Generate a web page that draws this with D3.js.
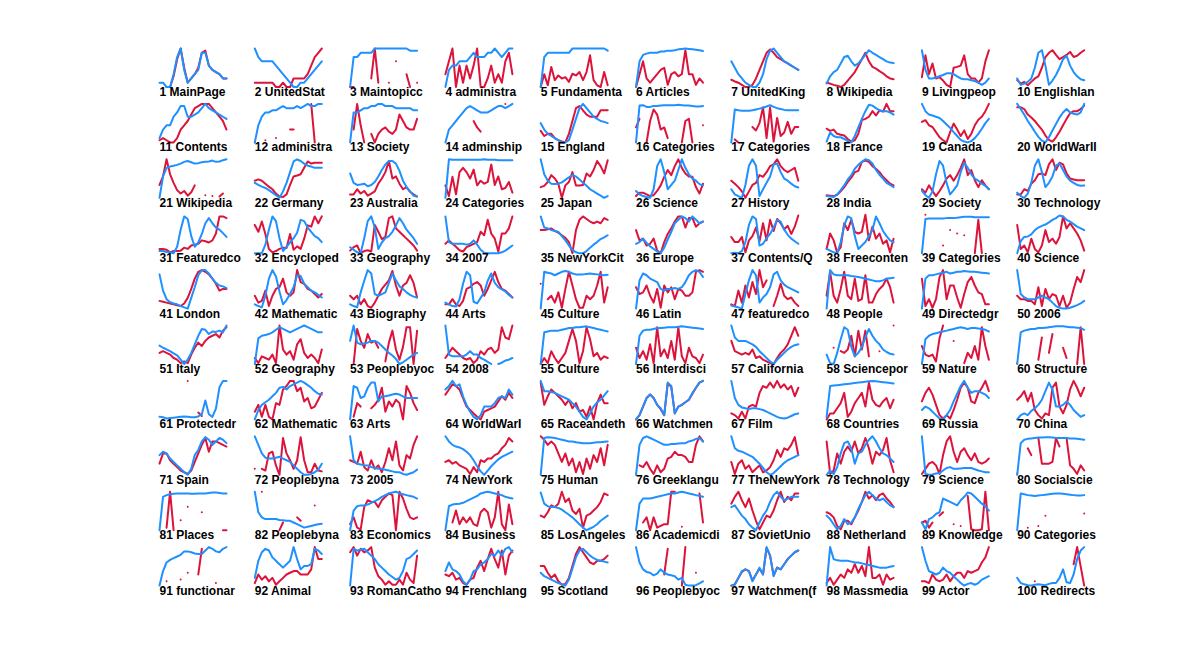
<!DOCTYPE html>
<html>
<head>
<meta charset="UTF-8">
<title>Page views</title>
<script src="https://d3js.org/d3.v7.min.js"></script>
<style>
    html, body {
        margin:0;
        padding:0;
        background:#fff;
    }
    svg text {
        font-family: "Liberation Sans", Arial, sans-serif;
        font-weight: bold;
        font-size: 12px;
        fill: #000;
    }
</style>
</head>
<body>
<svg id="chart"></svg>
<script>
    // gaps in a series
    const _ = null;

    const pages = [
        "MainPage","UnitedStat","Maintopicc","administra","Fundamenta","Articles","UnitedKing","Wikipedia","Livingpeop","Englishlan",
        "Contents","administra","Society","adminship","England","Categories","Categories","France","Canada","WorldWarII",
        "Wikipedia","Germany","Australia","Categories","Japan","Science","History","India","Society","Technology",
        "Featuredco","Encycloped","Geography","2007","NewYorkCit","Europe","Contents/Q","Freeconten","Categories","Science",
        "London","Mathematic","Biography","Arts","Culture","Latin","featuredco","People","Directedgr","2006",
        "Italy","Geography","Peoplebyoc","2008","Culture","Interdisci","California","Sciencepor","Nature","Structure",
        "Protectedr","Mathematic","Arts","WorldWarI","Raceandeth","Watchmen","Film","Countries","Russia","China",
        "Spain","Peoplebyna","2005","NewYork","Human","Greeklangu","TheNewYork","Technology","Science","Socialscie",
        "Places","Peoplebyna","Economics","Business","LosAngeles","Academicdi","SovietUnio","Netherland","Knowledge","Categories",
        "functionar","Animal","RomanCatho","Frenchlang","Scotland","Peoplebyoc","Watchmen(f","Massmedia","Actor","Redirects"
    ];

    // blue series, one row per page (scale 0..9)
    const blue = [
        [1,1,0,0,3,7,9,4,1,2,3,4,8,8,5,4,3.5,3,2,2],
        [9,7,6,6,6,6,5,4,3,2,1,0,0,1,1,2,3,4,5,6],
        [0,7,7,8,8,8,8,9,9,9,9,9,9,9,9,9,9,8.5,8.5,8.5],
        [0,4,5,5,6,6,6,7,8,7,7,7,8,8,9,8,7,8,9,9],
        [0,7,8,8,8,8,8,8,8,9,9,9,9,9,9,9,9,9,9,8.5],
        [0,6,7.5,7.8,8,8,8,8.3,8.3,8.5,8.5,8.6,8.8,8.9,9,8.9,8.8,8.7,8.6,8.4],
        [6,4.5,3,2,1,0.5,0,0,1,3,6.5,8.5,9,8,7,6,5.5,5,4.5,4],
        [0.8,2.5,3.5,4,5.5,7,7.3,6,5,5.5,6.5,7.5,8.6,8,7.5,7,6.5,6,5.7,5.6],
        [8.6,4,2,2,2.2,2.5,2.8,3.2,3.2,3,2.5,2,1.8,1.8,1.6,1.4,1,0.5,1,2],
        [2,0.5,0.8,1.2,2,4.5,8,8.6,5,0.5,1.5,2.8,4.5,6.5,7.3,5,3.5,2.5,1.8,1.6],
        [1,3,4,4,6,7,8.5,8.5,6,6,6.5,7,8,9,8,7.5,7,6.5,6,5.5],
        [0,4,6,7,7,7.5,7.5,8,8.5,8,8,8,8.5,8,8.5,9,8.5,8.5,9,9],
        [0,7,7,7.5,8,8,8.5,8.5,9,9,8.5,8.5,8.5,8,8,8,8,8,7.5,7.5],
        [0,3,4,5,6,7,8,8.5,8,7.5,7,7,7,7.5,8,8.5,8.5,8,8.5,9],
        [4.5,3,2,1.5,1,0.5,0,0,0.5,3,5.5,8,9,8,7,6,5.5,5,4.8,4.5],
        [0,8.6,8.7,8.3,8.3,8.5,8.5,8.6,8.7,8.7,8.7,8.7,8.8,8.7,8.6,8.6,8.5,8.4,8.4,8.5],
        [0,7.7,7.5,7.4,7.4,7.4,7.5,7.7,7.9,8.1,8.4,8.7,8.3,8,7.8,7.6,7.5,7.5,7.5,7.5],
        [0.2,2.3,1.5,1.2,1.2,0.8,0.3,0,1.5,3.5,5.5,7.3,8.8,8.6,8,7.5,7.3,7.3,7,6.5],
        [9,7.3,6.5,6.3,6,5.7,5,4.2,3.4,2.4,1.5,0.6,0.2,0,0.3,1,2,3.2,4.5,5.5],
        [9,7.8,6.5,5,3.8,2.5,1.3,0.4,0,1.2,2.8,4.3,5.8,7,7.8,7,6.7,6.5,7,9],
        [0,5,7,7.3,7.5,7.7,8,8.4,8.6,8.3,8,8.1,8.3,8.4,8.5,8.7,8.4,8.5,8.8,9],
        [3.5,3,2.6,2.3,1.8,1.2,0.6,0,1.5,3.5,6,8.5,9,8.6,8,7.5,7.3,7,7,7],
        [5.7,3.5,3,3.1,3.3,2.7,3,3.7,5,6.5,7.8,8.6,8.6,8,6.3,4,2.5,1.5,0.5,0.3],
        [0,9,8.9,8.9,8.9,8.9,8.9,8.9,8.9,8.9,8.9,9,8.9,8.9,8.9,8.8,8.8,8.8,8.8,8.8],
        [9,5.5,4,3.3,3.2,3.3,3.6,4.2,4.8,5.3,5,4.3,3.5,2.8,2,1.5,1,0.5,0,0.4],
        [1.6,0.8,0.4,0.2,0,2,7.4,9,6,2,3,4,6.5,9,7,5.5,4.5,4,3.2,2.9],
        [2,0.8,0.4,0,3,7.5,9,7.5,0.4,2,3.5,5,7.8,8,6,4.5,4,3.3,2.7,2.4],
        [0.4,0.3,0.2,0.8,1.8,2.9,4.3,5.3,6.8,7.7,8.4,9,8.8,8,6.5,5.4,4.5,3.5,3,2.5],
        [1.6,0.6,0,1.5,5.5,8.6,7.5,3.5,0.8,1.8,2.9,6,8.2,7,5.5,4.5,4,3.3,2.8,2],
        [1.2,0.4,0,1,3.5,7.5,9,6,2.5,3.5,5,7.5,8,6.5,5,4,3.5,3,2.8,2.9],
        [0.5,0.5,0.3,0.2,0,1.5,5.5,8.6,8,4,1.5,2.5,4.5,7,8.2,7,6,5.5,4.7,3.8],
        [0,0,0,2,5.5,8.6,7.5,3.5,0.5,1.5,2.5,3.5,4.8,7.8,7.5,6,5,4,3.5,2.6],
        [1.4,0.8,0.2,0,3.5,7.5,8.6,6,1,2.5,3.5,4,5,6.5,8.2,7,5.5,4.5,3.5,2.2],
        [8.6,2.6,2.2,2.2,2.2,2.2,2,2.2,3,2,0.8,0.1,0,0,0,0,0.2,0.6,1.2,1.8],
        [8.6,6,5.8,5.4,5.2,5,4,3,1.8,0.8,0.2,0,0,0.5,1.3,2,2.6,3.3,3.7,4.2],
        [2.2,2.6,3.4,2.4,1.6,1,0.4,0,1.3,3.2,5,7,7.8,8.6,8.2,7.4,8.6,7.8,7,7.4],
        [0,0.1,0,0.5,2.6,6.6,8.6,8,1.8,2.2,3.5,4.5,6,7.8,7.4,5.5,4.3,3.4,2.8,2.2],
        [1,0.6,0.2,0,2.6,6.5,8.6,8.2,4,1,1.8,2.6,4,5.4,8.6,7,5.2,4,3,2.6],
        [0,8,8.1,8.1,8.1,8.1,8.1,8.2,8.2,8.2,8.3,8.4,8.5,8.5,8.5,8.4,8.4,8.4,8.4,8.4],
        [0,2.8,3.8,3.9,4.4,5.4,6,6.4,6.7,7.2,7.8,8.2,8.8,8.6,7.8,7.4,6.8,6.2,5.8,5.4],
        [8,4.2,2.2,1.5,1.2,1,0.6,0.3,0,2.5,5,7.8,9,9,8.2,7,6,5.4,5.2,4.8],
        [1,0.6,0.3,3,7,9,7.5,4,1,2,3.4,5,7.8,7.6,5.8,5,4.2,3.8,3.2,2.6],
        [1,0.6,0.3,3.8,6.5,9,8.2,3.4,3,3.4,3.8,6,8.2,6.6,5.2,4.6,3.8,3.2,2.8,2.6],
        [1.4,1,0.6,0.5,2.2,5.8,8.6,7.8,1.6,1.2,2.5,3.8,6.5,8.2,6,5,4.5,4,3.2,2.6],
        [0,8.6,8.4,8.2,7.8,8.2,8.6,8.8,8.6,8.2,8,8,8,8.1,8.2,8.1,8,7.9,7.8,7.9],
        [0,6.6,8.2,7.8,7,6.6,6.2,4.6,4.2,4.6,4.6,4.8,4.6,5,6.2,7.8,8.6,9,8.6,7.4],
        [0.7,0.5,0.3,0,3.4,6.6,9,7.8,1.4,2.6,3.4,5,8,8.6,6.6,5.6,5,4.6,4.2,3.8],
        [0,9,8,7.8,7.8,7.8,7.8,7.6,7.5,7.4,7.2,7,6.8,6.6,6.4,6.4,6.6,7,7.1,7.2],
        [0,7,7.8,7.8,8,8.2,8.4,8.6,8.2,8.4,8.6,8.6,8.8,8.7,8.6,8.6,8.5,8.4,8.3,8.2],
        [9,3.4,2.6,2.2,2.2,2.2,2.6,3,2.6,2.2,1.4,0.6,0.2,0,0,0.2,0.5,0.8,1.2,1.8],
        [4.3,3.8,3.4,3,2.5,2,1,0,1,2.6,4.6,6.6,8.2,8,7,7.6,7.5,7.8,7.4,9],
        [0,6,6.6,6.8,7,7.4,8,8.6,8.2,7.8,7.4,7.8,8.2,8.6,9,8.6,8.2,7.8,7.4,7.4],
        [5.4,9,5,4.6,4.8,5,5.4,5.4,5,4.2,3.4,2.6,2,1.2,0,0.4,1,1.6,2.2,2.6],
        [9,2.2,1.8,1.8,1.8,1.8,2.2,3,2.2,2.2,1.4,1,0.5,0,_,0,0.3,0.8,1,1.4],
        [0,7.4,7.6,7.8,7.8,7.8,8,8.2,8.4,8.4,8.6,8.6,8.7,8.8,8.6,8.4,8.2,8,7.8,7.6],
        [0,6.6,7.8,8,8,8.2,8.4,8.4,8.5,8.6,8.6,8.6,8.7,8.8,8.7,8.6,8.5,8.4,8.3,8.2],
        [9,6.2,5.4,5.4,5.4,5,4.6,4,3,2.2,1.4,0.6,0,1,1.8,2.6,3.4,4,4.4,4.6],
        [2.2,0.2,0,2.6,5.8,8.6,8,4,1.8,2.6,4,6.2,8.2,6.6,5.4,4.6,3.4,2.8,2.4,2.2],
        [0,5.8,6.6,7,7.2,7.4,7.6,7.8,8,8.2,8.4,8.6,8.4,8.2,8.4,8.4,8.3,8.2,8,7.6],
        [0,7.4,7.8,8,8.2,8.2,8.4,8.4,8.5,8.6,8.7,8.8,8.8,8.8,8.7,8.6,8.6,8.5,8.4,8],
        [0.6,0.5,0.2,0.3,0.4,0.5,0.6,0.7,0.6,0.5,0.5,0.7,1.2,4.4,1.2,0.6,2.5,7.5,9,9],
        [0,2.2,3.4,4,4.6,5.4,6.2,7.4,7.6,7,7.8,8.2,8.6,9,8.6,8,7.4,6.6,6,5.8],
        [0,7.8,7.4,5,5.4,7.4,8.6,8.6,4.2,5.4,5.4,5.6,5.8,6,5.8,5.4,5,5,5,5],
        [7,7.8,9,7.8,8.2,5.4,3.4,1.8,0.6,0,1,3,3,3,3.8,5,5.4,5,7,5.8],
        [9,6.6,6.6,6.4,6.2,5.8,5.4,5,4.6,3.8,3,1.8,0.6,0,1.4,3,4,4.6,5.6,6.6],
        [0,1,3,5,5.8,5,3.4,2.6,1,8.6,7.8,1.4,3,3.4,4,4.6,6.2,7.4,8.6,9],
        [9,5,3.4,2.8,2.6,2.4,2.6,2.6,2.4,2.2,1.8,1.4,1,0.6,0.3,0.2,0.4,0.8,1.2,1.4],
        [0.5,7.8,7.9,8,8.1,8.2,8.3,8.4,8.5,8.6,8.7,8.8,8.9,9,8.9,8.8,8.7,8.6,8.5,8.4],
        [2.2,3,2.6,1.8,1,0.2,0,1,2.2,4.2,6,7.8,9,7.4,6.2,6.6,6.6,6.2,5.8,5],
        [0,1,1.4,1,2,2.6,3.4,4.6,6.6,8.6,7,3,3,3.4,4.2,3.4,2.2,1.4,0.6,1],
        [4.6,5.4,5,3.8,3,2.2,1.4,0.6,0,1.4,4.6,5.8,7.8,8.8,8.2,7,7.8,8.6,8.2,7.4],
        [9,7,5,4,3.8,3.8,4,4.2,3.8,3.4,3,2.2,1.4,0.6,0,0,0.2,0.6,1.2,2.6],
        [9,3.4,2.6,2.4,2.2,2.2,1.8,1.6,1.4,1.4,1.2,1,0.8,0.6,0.6,0.2,0,0.3,0.6,1.2],
        [9,7.8,7,6.6,6.4,6,5.4,4.6,3.4,2,0.8,0,1,2,2.8,3.6,4.2,4.6,5,5.4],
        [0,8.6,8.8,8.7,8.6,8.4,8.2,8,7.8,7.8,7.6,7.5,7.4,7.4,7.4,7.5,7.6,7.6,7.7,7.8],
        [0,7,8.6,9,8.6,8.2,7.8,7.4,7,7,7.2,7.2,7.3,7.4,7.4,7.8,8,8.4,8.6,7.8],
        [9,6.2,5.6,5.4,5,4.6,4.2,3.4,2.6,1.6,0.6,0,0.4,1.2,2,2.8,3.4,3.8,4.2,4.6],
        [0,1,0.2,1.8,5,7.4,7.8,6.2,2.6,5,5.4,7,8.2,9,7.8,6.2,5,4.6,3.8,3],
        [9,0.2,0,0.1,0.3,0.4,1,1.6,1.8,1.4,1.4,1.5,1.6,1.6,1.6,1.3,1,0.8,0.6,0.6],
        [0,7.4,8.2,8.4,8.5,8.6,8.7,8.7,8.8,8.8,8.7,8.6,8.6,8.6,8.6,8.5,8.5,8.4,8.3,8.2],
        [0,7.8,8.2,8.4,8.5,8.6,8.6,8.6,8.6,8.5,8.5,8.6,8.6,8.6,8.7,8.8,8.8,8.7,8.6,8.6],
        [9,4.2,3,2.6,2.6,2.6,2.6,2.4,2.3,2.2,2.2,1.8,1.4,1,0.6,0.8,1,1.2,1.4,1.5],
        [0,4.6,5.6,5.8,5.8,6,6.4,6.8,7.2,7.8,8.2,8.6,8.8,9,8.6,8.4,8.2,8,7.8,7.4],
        [0,5.6,6,6.1,6.2,6.4,6.8,7.2,7.6,8,8.6,8.8,9,8.8,8.6,8.4,8.2,7.8,7.6,7.4],
        [8.8,6.2,5.6,5.4,5.4,5.2,4.8,4.2,3.6,3,2.2,1.4,0.6,0,0.4,0.8,1.4,2.2,2.8,3.4],
        [0,6.2,7.4,7.4,7.4,7.6,7.8,8,8.2,8.4,8.6,8.6,8.8,9,8.8,8.6,8.4,8.2,8,7.8],
        [5.4,5.8,4.6,3.4,2.6,1.4,0.6,0,1.8,3.4,4.6,6.6,8.2,9,7.8,7,7.4,7.8,7.8,7.8],
        [3.4,2.6,1.4,0.2,1,2.6,1.4,1.8,3,5,6.6,8.2,9,8.2,7.4,7,7.4,6.6,5.8,5.4],
        [1.8,0.2,2.6,3,3.8,4.2,7.4,7,6.6,6.2,5.8,7,7.8,8.8,8.6,7.8,7,6.2,5.6,4.6],
        [0,8.6,8.4,8.2,8.1,8,8.1,8.2,8.3,8.4,8.5,8.6,8.6,8.5,8.4,8.3,8.2,8.1,8.1,8.2],
        [0,3.4,5.4,6,6.4,6.8,7.2,8,8,7.8,7.5,7.4,7.4,8.2,9,8.6,8,7.8,8.6,9],
        [1.8,5.8,7.8,8.6,8.2,6.6,5.8,5,4.2,5,5.8,9,6.2,3.8,4.6,4.6,5,8.6,8.2,7.4],
        [0,8.6,8.2,8.4,8.6,7.8,7,6.2,5,4.2,3.4,2.6,2,1.4,1.8,3.4,6.2,6.6,7.4,8.2],
        [3.4,5.4,3.8,3.4,2.6,1,0.2,1.4,3.4,3.8,5,5.4,6.2,7.4,7,8.2,7,8.6,9,7.8],
        [3,2.2,1.8,1.4,1,0.6,0.3,0,1.4,4,6.6,8.2,8.6,7.8,7,6.4,6,5.8,5.6,5.4],
        [9,5.4,3.8,3.2,3,2.4,2.8,3.8,3,2.6,2.4,2.2,1.4,1.8,0.2,0,0,0.1,0.5,1],
        [0,0.2,1.8,3.4,3.8,3.4,1,2.6,4.2,2.6,9,7,2.2,4.2,3.8,5,6.2,7,7.8,8.2],
        [0,9,6.2,5.9,5.8,5.8,5.8,5.6,5.4,5.4,5.2,5,4.8,4.6,4.4,4.2,4.2,4.2,4.4,4.6],
        [9,5.8,3.4,3,2.6,3,4.2,3.4,3,2.2,1.4,0.6,0,0.4,0.6,0.2,0.6,1.4,1.8,2.2],
        [1.8,0.6,0.3,0.1,0,0.2,0.3,0.2,0.1,0.4,0.6,0.6,1.8,3.8,0.8,0.6,2.6,6.2,8.2,9]
    ];

    // red series, one row per page (scale 0..9, _ = missing)
    const red = [
        [_,_,0,0,2.5,6.5,9,4.5,1,2,3,4.5,8,8.5,5,4,3.5,3,2,2],
        [1,1,1,1,1,1,0,0,1,0,0,2,2,2,2,3,5,7,8,9],
        [0,0,_,_,_,_,2,9,1,_,_,1,_,6,_,_,3,0,_,1],
        [3,6,9,0,5,1,5,2,5,9,0,0,2,5,1,3,1,6,8,3],
        [0,3,0.4,4.7,1.6,2.7,2,2.3,1.2,3.1,2.7,3.5,1.6,3.5,7.4,1.6,0.4,0,3.5,0.4],
        [0,3,6,2,1,2,3,4,4.5,0.5,3,3.5,2.5,3,8.6,3,3,0.5,2,1],
        [1.7,1.3,1,0.5,0,0,0.5,2,4,6,8,8.8,8,7,6.5,6,5.5,5,4.5,4],
        [1,0.8,0.5,0.3,0,0.5,1.5,2.5,3.5,5,6.5,8,6,4.7,4.3,3.7,3.2,2.5,2,1.8],
        [2.3,7.4,3,5.5,2,2.3,1.5,0.5,0,4.5,4.7,5,7.4,3,2,2,1,2,6,8.6],
        [1.6,0.8,1.2,0.4,1.2,2,2.5,4.5,7,8,8.6,7.5,6.5,7,7.5,8.2,7,7.3,8,8.6],
        [0.5,1,0.5,0,0,1,3,4,5,6.5,8,8.5,9,9,9,8,7,6,5,3],
        [0,_,_,0.5,_,_,1,_,_,_,3,3,_,_,_,_,9,0,_,_],
        [_,3,9,4,0,_,2,0,2,3,3.5,2.5,2,3,6.5,5,3.5,3,3,5.5],
        [_,_,_,_,_,_,_,_,5,3.5,2.5,_,_,_,_,_,_,9,_,_],
        [2.7,1.5,2,2,1,0.5,0.2,0,2,5,8,8.5,7.5,6.5,6,6,6,7.5,7.5,7.5],
        [3.5,5.5,_,0,5,7.7,6.5,3,3.5,1,_,_,_,0,5,5.5,0,_,_,4],
        [_,0.7,0,_,_,_,3.6,2.8,4.5,8.2,1,8.2,0.2,5.7,1.5,2.3,4.8,2,3.6,3.6],
        [3.2,2.7,3,2,1.8,1.6,0.8,0.2,0.5,2,5.2,5.5,6,7.3,6.3,7.5,7.2,9,7.3,7.3],
        [4.8,5.2,4,3.6,2.4,1.2,0.5,0,2.4,4.4,3,1.5,2.8,0.8,2,4,5.3,6,7.3,9],
        [8.2,8.2,7.8,6.5,5.8,5,4,3,1.6,0.6,0.2,1.2,2.5,4,5.5,6.8,7.3,7.3,7.8,8.6],
        [3,5,9,5.5,3.5,1.8,1,1.6,0.5,1.3,2.9,_,_,0.6,_,0.4,_,0.3,1,_],
        [4,4.3,4,3.3,2.6,2,1,0.3,0.2,0.8,3,5,5.2,5.5,7,8.5,8,8.2,8.2,8.2],
        [0.8,0.8,2,1,1.6,0.5,1,1.5,3.3,4.5,6,8.6,4.5,5,3.3,2,2.5,1.4,0.8,0.3],
        [2.9,0.4,4.9,0.8,6,7,6,4.5,6.6,2.9,4,3.3,3.7,7.8,3,5,2,2.3,3.7,1.2],
        [2.5,2.8,3.7,5.3,4.5,3.3,0,2.9,3.7,6,2.9,2.9,3,5.7,5,6.5,8.6,7.4,5.7,8.8],
        [0.4,1.2,1.2,0.8,0.4,0.6,1.6,2.9,4.9,6.5,5.3,7.4,9,7,5.7,5,4.9,2.5,1,3.3],
        [4,3.3,2.5,1.5,0,1.5,3,3.5,5.3,4.9,6,7.4,7.8,9,7.4,6.5,6,6.5,7,4],
        [0.6,0.5,0.4,0.7,1.5,2.5,3.7,4.7,6,6.3,8.4,8.7,8.4,7.4,6.8,6,4.9,4.1,3.3,2.9],
        [2,1.2,2.9,1.6,0.4,1.6,2.9,4.5,5.3,4,5.3,7,9,5.3,6.5,4.1,2.5,4.1,2.9,2],
        [0.8,0.8,2,1.6,3.3,4.1,5.5,5.7,5.3,7.8,9,6.5,8.2,7.8,5.7,4.5,4.3,4.1,4.1,4.1],
        [1,1,0.8,0.2,0.5,0.5,0.6,1.3,1,1.8,2,2.2,3,2.8,2.5,3,4.6,8.6,8.6,8.2],
        [6.6,5,7.4,4.5,1,0.2,0.5,1,1.3,1.2,4.5,0.8,1.6,1,3.4,6.5,6.2,8.6,7,8.6],
        [0.6,1.4,1.8,0,0.5,0.7,0.4,6.6,5,3.3,3.8,8.2,8.6,5.8,5,4.2,3.4,2.6,1.8,0.6],
        [2.2,3,2.2,1.5,0.7,0.4,1.4,1.8,2.2,2.6,5,4.2,7.8,4.6,3.4,0.4,4.6,4.6,5.8,8.6],
        [5.4,5.4,5.6,5.8,5.2,4.8,4.2,3.6,2.6,0,5.4,7.8,8.6,8,7.4,7,7.4,7,8.2,7.8],
        [5.4,3,3.4,1.8,2.2,3.4,0.6,0,2.6,4.5,5.8,7.4,8.6,8.6,6,8.2,8.2,6.2,7,7.4],
        [3.8,2.6,2.6,3.8,0.2,3,4,6,2.8,7,3,7.8,5.2,8,7,5.6,6.4,4.5,6.2,8.8],
        [1,4.6,3,0.2,1.4,7,5.4,7.8,5,4.6,5,9,3,6.2,3.4,4.6,2.2,3,0.2,3.4],
        [_,9,_,_,_,_,1.8,_,5.4,_,4.6,_,4.2,_,_,0,7.8,0,_,_],
        [6.6,1,1.8,0.2,3.4,1,0.2,1.8,5.4,2.6,3.4,2.2,3.8,8.6,5.8,7,5.8,4.6,3,0.6],
        [1.8,1.6,1.4,1.2,1,0.8,0.6,1.2,2.5,4.6,7,8.6,9,8.6,8,7,5.8,4.2,4.6,4.6],
        [3,1.4,1.8,4.2,0.6,3,4.6,5,7,3.8,3,3.8,9,6.2,5.8,4.6,4.2,3.4,2.6,3.4],
        [3,2.2,3,1,2.2,0.6,0.2,1.4,3,4.6,5.6,6.6,8.8,5.4,3,5.4,6,7.8,6,2.6],
        [1,1,2.2,1,0.6,1.8,4.6,5,5.8,6.2,5.4,3,4.6,6.6,8.6,6.2,4.6,4.2,3.4,2.6],
        [5.8,_,2.2,3,1.4,3.8,0.2,4.6,8.6,5.4,2.2,0.2,0.2,3,2.2,3,5.4,8.6,1.4,5],
        [5,3.4,3.8,5.4,3,1.4,4.6,0.2,5.4,3.8,5,2.2,4.6,4.2,3,3,3.8,8.6,9,8.6],
        [1,0.6,4.2,1.4,5.4,2.6,6.2,3.4,9,5,6.6,_,0.6,3,5.8,3,2.2,2.6,1.4,0.6],
        [3,8.6,3,1.4,4.6,8.6,3,2.2,7,1.8,2.2,7.8,1.4,1.4,3.4,4.6,5.4,7,5,1.4],
        [7,0.6,2.2,0.2,2.2,7.4,9,2.2,5.4,5.4,2.6,0.2,3.4,6.2,7.4,5.4,3.8,3.4,1,1],
        [3,2.2,2.2,1.8,1.8,1,5,0.6,4.6,2.2,3.4,3,0.6,3,0.2,1.4,4.6,7.4,6.2,9],
        [2.6,3,2.6,2.2,1.4,1,0.2,0.6,0.2,2.2,3.8,5,4.2,5.4,6.2,6.6,7,6.2,7.8,8.6],
        [1.4,0.2,1.8,1.4,1,2.2,0.2,9,3.4,2.2,3,1,4.6,5.8,2.6,1.4,2.2,1.4,0.2,3.4],
        [_,0,8.2,5.4,3.8,7,5,5.4,3.8,_,0.6,5,7.8,3.4,1,4,8.6,8.6,0,7.8],
        [1.4,2.6,3.8,3,2.2,1.4,1,1.4,0.2,1,3,2.2,3.4,3.8,2.6,3.4,8.6,6.2,5.8,9],
        [0,1.4,0.2,3,1.4,0.2,1.4,2.6,5.4,8.2,5.4,0.2,3,8.6,5.8,1.8,2.6,1,1.8,1.4],
        [3.8,1.4,3,1,4.6,0.2,8.6,1.8,3.4,1.4,5.4,1,8.6,1.8,0.2,3.8,1.8,1.4,0.2,2.2],
        [5.4,3,2.6,2.2,2.6,2.2,3.4,1.4,1.8,1,0.6,0.2,0,1.4,2.6,3.4,4.6,6.6,8.6,6.6],
        [_,_,3.8,_,3,2.6,3.4,6.6,1.8,7.8,3.4,7.8,1.8,_,_,3,_,_,_,9],
        [4.2,2.2,1.8,2.2,0.6,6,9,_,_,5.4,_,_,0.2,2.6,1.4,4.2,1,8.6,4.2,1],
        [0.2,_,_,_,_,_,1,6.2,_,2.6,7,_,_,3.8,1.4,_,_,0,8.6,0],
        [_,_,_,_,_,_,_,_,9,_,_,1.6,0.8,_,_,_,_,_,_,_],
        [1.8,3.4,0.6,3.4,0.6,0,3.8,3.4,7,7.8,9,9,6.6,7.4,4.2,5,2.6,3,4.6,6.2],
        [_,0.6,3.8,3,_,_,2.6,3.4,4.6,7.4,1.8,4.2,3,4.6,3.8,0,7.8,6.2,3.8,2.2],
        [5.8,7,8.2,7.8,7,5,3,2.2,1.4,0.6,0,1.8,2.2,2.6,3,4.2,5.4,4.6,6.2,5],
        [8.6,3.4,5.4,7,6.2,5.4,4.6,3.4,4.6,2.6,3.8,1.8,2.2,0.6,3,0,3.8,5.8,3.8,3.8],
        [0,1,3,5,5.8,5,3.4,2.4,1,8.4,7.6,1.4,3,3.4,4,4.6,6,7.4,8.6,9],
        [1.4,1,0.2,1.8,0.2,3,3.4,3,6.2,7.8,7.4,8.6,7.4,9,7.4,8.2,7,7.8,5.4,7.4],
        [0,1.4,1.4,2.6,3.8,6.2,0.6,1.8,3.8,5,6.2,3,8.6,4.6,3.4,3,4.2,5,2.6,4.6],
        [4.2,6.2,7.4,5.8,3.4,1,0.2,1,0.2,2.2,4.6,7.4,8.6,7.4,4.2,3.8,6.2,7.4,9,6.6],
        [4.6,5.4,6.6,4.2,6.2,2.2,1,0.2,1.4,1,7.4,8.6,3,1.4,3.4,7,9,7.4,5.4,7.4],
        [2.6,5,5,3.4,2.6,1.8,1,0.6,0.2,1,3,5,7,8.6,5.4,7.8,7.8,7.4,7,6.6],
        [1.4,_,1.4,1,5,5.4,2.2,0,8.6,5,3.4,1.4,3.4,8.8,3.4,0.6,0.6,2.6,1,0.8],
        [3.4,3,2.6,5.4,1.8,1,3.4,1.4,2.2,0.6,3,6.2,3.4,7.8,2.2,1,4.6,3.8,7,9],
        [3,3.4,2.6,3,2.2,1.8,1.4,0.2,1.8,0.6,3.4,3,3.8,3.8,4.6,5,6.2,7,8.6,7.8],
        [9,8.2,7,7.8,7,5,3,5,2.2,3.8,0.6,3,0.2,3.8,1.4,4.6,3,6.2,2.2,7],
        [_,2.2,1.8,3,1.4,0.2,2.2,0.6,1.4,3.8,4.2,5.4,4.6,4.6,4.2,3,3,7,9,7.8],
        [3,0.2,2.6,3.4,1.4,2.2,0.6,1.4,2.2,0.6,1,1.8,3.4,5.8,4.2,6.2,5.8,7,8.8,4.6],
        [7.8,0.2,1,5,2.6,5.4,6.6,5.4,7.8,5,6.2,8.6,6.2,2.6,5.4,4.6,5.8,8.6,3.4,0.6],
        [0.2,1.4,2.6,3,2.2,0.2,4.6,7.8,9,5.4,3,5.4,6.2,4.6,3.4,5,3,2.6,3,3.8],
        [0.3,_,_,6.2,4.6,_,8.6,2.6,2.6,2.6,3,8.6,6.6,_,8.6,2.2,1.4,0.2,2.2,1],
        [_,_,0.6,9,0,_,2.3,_,5.5,_,_,_,4.2,_,_,_,_,_,0,0],
        [_,_,9,_,_,_,_,0,1.8,_,_,_,3,2.2,_,_,_,5.8,_,_],
        [1.4,3,0.6,0.2,5.4,7,6.6,6.6,5.4,7,7.8,8.6,8.2,0,9,7.4,5,3,2.6,3],
        [_,_,1.8,4.6,1.4,3,1.8,3,1.4,1,4.2,5,4.2,0.6,3,9,1.4,0,6,1.4],
        [3.4,3,4.2,5.8,5.4,6.2,9,6.6,7.4,4.6,3.8,5,0.6,3.4,3.8,4.6,5.4,6.6,8.6,8.2],
        [_,_,1.8,3,0,3,0.6,1,1.4,1.4,9,9,_,0.8,_,_,_,_,8.6,1.8],
        [6.2,7.8,9,7,5.4,7.4,4.6,2.2,0.2,1.8,3.4,3,4.6,7,9,6.6,7.8,7,8.6,8.6],
        [4.2,3.8,3,1,0.2,2.2,2.2,1.4,3,4.6,6.6,9,7.4,8.2,7,8.2,8.6,7.4,6.6,5.4],
        [1.8,2.2,0.6,1.8,_,3.4,4.2,_,_,1.4,_,1,_,8,0.2,0,0,0.2,9,0],
        [_,_,_,0.6,_,_,1,_,3.4,_,_,_,_,_,_,_,_,_,_,3.9],
        [_,_,1,_,_,_,1.4,_,3,_,_,2.6,8.6,_,_,_,0.6,_,_,_],
        [0.6,2.6,1.4,2.2,1,1.8,0.2,1,1.8,2.6,3,3.4,3.4,2.6,2.6,2.6,3.8,9,6.2,6.2],
        [7.8,9,7,8.6,7.8,8.2,9,4.2,2.2,1.4,0.2,1,0.2,0.2,1.4,0.2,3,1.4,0.6,7],
        [2.6,2.2,3,1.4,1.8,0.6,0.2,1.4,1.8,4.2,5.8,3.4,6.2,8.6,6.2,4.2,8.2,2.6,7,8.2],
        [4.6,4.6,3,1.8,2.6,1,0.2,0.4,1.8,4.6,7.4,9,7.8,6.6,5.4,5,5.8,5.8,6.2,7],
        [_,_,_,_,_,_,_,_,2.6,8.6,_,_,_,0,9,_,_,3,_,_],
        [0,0.3,1.8,3.2,3.8,3.4,1.2,2.6,4,2.6,8.8,7,2.4,4.2,3.8,5,6.2,7,7.8,8.2],
        [0.6,1.8,0.2,1.4,2.6,1.8,3.8,3,5,3,4.6,2.2,9,1.8,1.8,2.6,0.2,2.6,1.4,1.8],
        [1,1,0.6,2.6,1.4,1,1.4,2.6,1,2.2,3,3,1.8,3.4,3,3.4,3.8,5.4,6.6,9],
        [_,_,_,_,_,1,_,_,_,_,_,_,_,_,_,_,5,9,4.5,0]
    ];

    const width = 1199, height = 662;
    const margin = { left: 159.5, top: 48.5 };
    const colStep = 95.3, rowStep = 55.4;
    const cellW = 67, cellH = 38.5;

    const svg = d3.select("#chart")
        .attr("width", width)
        .attr("height", height);

    const xScale = d3.scaleLinear().domain([0, 19]).range([0, cellW]);
    const yScale = d3.scaleLinear().domain([0, 9]).range([cellH, 0]);

    const line = d3.line()
        .defined(d => d !== null)
        .x((d, i) => xScale(i))
        .y(d => yScale(d));

    pages.forEach((name, k) => {
        const g = svg.append("g")
            .attr("transform", `translate(${margin.left + (k % 10) * colStep},${margin.top + Math.floor(k / 10) * rowStep})`);

        g.append("path")
            .attr("d", line(red[k]))
            .attr("fill", "none")
            .attr("stroke", "#dc143c")
            .attr("stroke-width", 2)
            .attr("stroke-linejoin", "round")
            .attr("stroke-linecap", "round");

        g.append("path")
            .attr("d", line(blue[k]))
            .attr("fill", "none")
            .attr("stroke", "#1e90ff")
            .attr("stroke-width", 2)
            .attr("stroke-linejoin", "round")
            .attr("stroke-linecap", "round");

        g.append("text")
            .attr("x", 0)
            .attr("y", cellH + 9)
            .text((k + 1) + " " + name);
    });
</script>
</body>
</html>
